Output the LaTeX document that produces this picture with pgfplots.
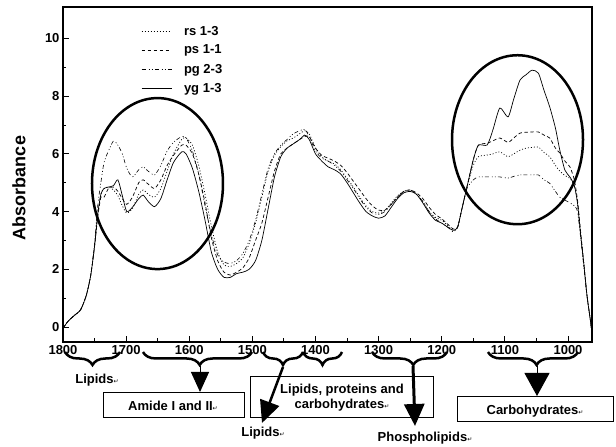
\documentclass[border=0pt]{standalone}
\usepackage{fontspec}
\setmainfont{Liberation Sans}
\newfontfamily\dejavu{DejaVu Sans}
\usepackage{pgfplots}
\usepackage{pgfplotstable}
\pgfplotsset{compat=1.18}
\usetikzlibrary{decorations.pathreplacing,arrows.meta}

\pgfplotstableread{
x rs ps pg yg
1800 -0.05 -0.05 -0.05 -0.05
1792 0.2 0.2 0.2 0.2
1782 0.4 0.4 0.4 0.4
1772 0.6 0.6 0.6 0.6
1763 1.1 1.1 1.1 1.1
1756 1.8 1.8 1.8 1.8
1750 2.8 2.8 2.9 2.8
1745 3.9 3.8 4.2 3.9
1740 4.6 4.5 5.0 4.6
1735 4.8 4.5 5.7 4.8
1728 4.85 4.8 6.1 4.85
1720 4.75 4.85 6.45 4.9
1713 4.55 4.7 6.3 5.1
1706 4.2 4.45 6.0 4.55
1699 3.95 4.25 5.5 4.0
1690 4.1 4.5 5.2 4.15
1680 4.6 5.0 5.45 4.45
1673 4.75 5.1 5.55 4.57
1665 4.6 4.95 5.4 4.35
1655 4.5 4.8 5.27 4.17
1645 4.8 5.1 5.6 4.45
1635 5.4 5.6 6.1 5.1
1625 6.0 5.95 6.4 5.7
1612 6.5 6.3 6.6 6.07
1605 6.55 6.3 6.55 6.0
1595 6.3 6.0 6.1 5.5
1585 5.6 5.3 5.3 4.7
1575 4.6 4.3 4.2 3.7
1565 3.5 3.1 3.2 2.6
1555 2.6 2.3 2.5 2.0
1545 2.15 1.9 2.25 1.72
1535 2.1 1.8 2.2 1.72
1525 2.2 1.9 2.3 1.85
1515 2.4 2.05 2.55 1.9
1505 2.9 2.4 3.0 2.0
1495 3.6 3.0 3.7 2.3
1485 4.5 3.6 4.6 3.0
1475 5.4 4.5 5.5 4.1
1465 5.95 5.4 6.0 5.2
1455 6.25 6.0 6.3 5.9
1445 6.45 6.2 6.5 6.2
1435 6.55 6.35 6.7 6.35
1425 6.7 6.5 6.8 6.5
1417 6.8 6.6 6.85 6.65
1410 6.7 6.6 6.6 6.5
1400 6.2 6.2 6.1 6.0
1390 5.9 5.95 5.85 5.75
1380 5.75 5.85 5.75 5.55
1370 5.65 5.75 5.6 5.45
1360 5.45 5.6 5.4 5.3
1350 5.15 5.35 5.1 5.0
1340 4.85 5.05 4.8 4.65
1330 4.5 4.75 4.45 4.3
1320 4.2 4.45 4.15 4.0
1310 4.0 4.2 3.95 3.85
1300 3.95 4.05 3.9 3.77
1290 4.05 4.05 4.0 3.85
1280 4.3 4.25 4.25 4.15
1270 4.55 4.5 4.5 4.45
1260 4.7 4.7 4.7 4.65
1250 4.75 4.75 4.75 4.7
1240 4.6 4.65 4.6 4.6
1230 4.35 4.45 4.35 4.3
1220 4.0 4.15 4.0 3.95
1210 3.8 3.9 3.75 3.7
1200 3.7 3.75 3.6 3.6
1190 3.5 3.55 3.45 3.45
1182 3.35 3.4 3.3 3.35
1175 3.45 3.45 3.45 3.45
1168 4.1 4.1 4.1 4.1
1160 4.86 4.86 4.8 4.86
1150 5.6 5.8 5.1 5.8
1142 5.9 6.3 5.2 6.3
1128 5.96 6.37 5.2 6.31
1119 6.0 6.45 5.2 6.83
1108 6.07 6.55 5.2 7.59
1095 5.9 6.4 5.16 7.28
1086 6.0 6.55 5.22 7.9
1076 6.13 6.72 5.27 8.56
1066 6.2 6.75 5.27 8.75
1057 6.22 6.76 5.27 8.9
1047 6.24 6.76 5.27 8.8
1038 6.05 6.65 5.1 8.2
1029 5.9 6.55 4.98 7.63
1020 5.6 6.2 4.7 6.9
1013 5.4 6.03 4.5 6.13
1005 5.25 5.75 4.4 5.44
997 5.15 5.55 4.3 5.2
990 4.9 5.1 4.2 4.9
985 4.3 4.4 4.0 4.3
980 3.2 3.3 3.1 3.2
975 2.2 2.2 2.1 2.2
970 1.1 1.1 1.1 1.1
965 0.3 0.3 0.3 0.3
962 -0.2 -0.2 -0.2 -0.2
}\spectra

\newcommand{\retmark}{{\dejavu\mdseries\fontsize{6}{6}\selectfont ↵}}

\begin{document}
\begin{tikzpicture}[x=1pt,y=1pt]
\path[use as bounding box] (0,0) rectangle (616,447);
\begin{axis}[
  at={(63pt,105pt)}, anchor=south west,
  scale only axis, width=529pt, height=335pt,
  x dir=reverse, xmin=962, xmax=1800, ymin=-0.52, ymax=11.09,
  xtick={1000,1100,...,1800}, ytick={0,2,...,10},
  minor x tick num=1, minor y tick num=1,
  tick align=inside, tick pos=left,
  major tick length=6pt, minor tick length=3.5pt,
  every tick/.style={black, line width=0.9pt},
  axis line style={line width=1.1pt},
  /pgf/number format/assume math mode=true,
  /pgf/number format/1000 sep={},
  ticklabel style={font=\bfseries\fontsize{13}{15}\selectfont},
  legend style={draw=none, fill=none, at={(0.142,0.956)}, anchor=north west,
    font=\bfseries\fontsize{13}{15}\selectfont, row sep=4.5pt,
    /tikz/every odd column/.append style={column sep=10pt}},
  legend cell align=left,
  legend image code/.code={\draw[#1] (0pt,0pt) -- (30pt,0pt);},
]
\addplot[black, line width=0.7pt, smooth, tension=0.4, dash pattern=on 1pt off 2pt] table[x=x,y=rs] {\spectra};
\addlegendentry{rs 1-3}
\addplot[black, line width=0.7pt, smooth, tension=0.4, dash pattern=on 3.5pt off 2.5pt] table[x=x,y=ps] {\spectra};
\addlegendentry{ps 1-1}
\addplot[black, line width=0.6pt, smooth, tension=0.4, dash pattern=on 4pt off 3pt on 1pt off 2pt on 1pt off 2pt] table[x=x,y=pg] {\spectra};
\addlegendentry{pg 2-3}
\addplot[black, line width=0.7pt, smooth, tension=0.4] table[x=x,y=yg] {\spectra};
\addlegendentry{yg 1-3}
\draw[line width=2.5pt] (axis cs:1650.3,4.97) ellipse [x radius=65.5pt, y radius=85.5pt];
\draw[line width=2.5pt] (axis cs:1080,6.49) ellipse [x radius=65.5pt, y radius=84.5pt];
\end{axis}

\node[rotate=90, font=\bfseries\fontsize{18}{20}\selectfont] at (19,259) {Absorbance};

% braces
\tikzset{br/.style={line width=2.5pt, decorate, decoration={brace, mirror, amplitude=13pt, aspect=#1}}}
\draw[br=0.5] (65,95) -- (120,95);
\draw[br=0.52] (143,95) -- (252,95);
\draw[br=0.5] (263,95) -- (303,95);
\draw[br=0.5] (303,95) -- (342,95);
\draw[br=0.55] (372,95) -- (447,95);
\draw[br=0.54] (488,95) -- (578,95);

% boxes
\draw[line width=1pt] (103,29) rectangle (244,54);
\draw[line width=1pt] (250,29) rectangle (433,70);
\draw[line width=1pt] (457,25) rectangle (613,50);

% arrows
\draw[line width=1pt, -{Triangle[length=20pt,width=18pt]}] (200,81) -- (200,55);
\draw[line width=2.5pt, -{Triangle[length=22pt,width=20pt]}] (283,80) -- (262,24);
\draw[line width=3pt, -{Triangle[length=22pt,width=20pt]}] (413,81) -- (415,21);
\draw[line width=1pt, -{Triangle[length=23pt,width=25pt]}] (537,81) -- (537,51);

% labels
\begin{scope}[every node/.style={font=\bfseries\fontsize{13}{15}\selectfont, inner sep=0pt}]
\node at (97,67) {Lipids\retmark};
\node at (173,41) {Amide I and II\retmark};
\node[align=center] at (342,49.5) {Lipids, proteins and\\carbohydrates\retmark};
\node at (263,14) {Lipids\retmark};
\node at (425,9) {Phospholipids\retmark};
\node at (535,36) {Carbohydrates\retmark};
\end{scope}
\end{tikzpicture}
\end{document}
